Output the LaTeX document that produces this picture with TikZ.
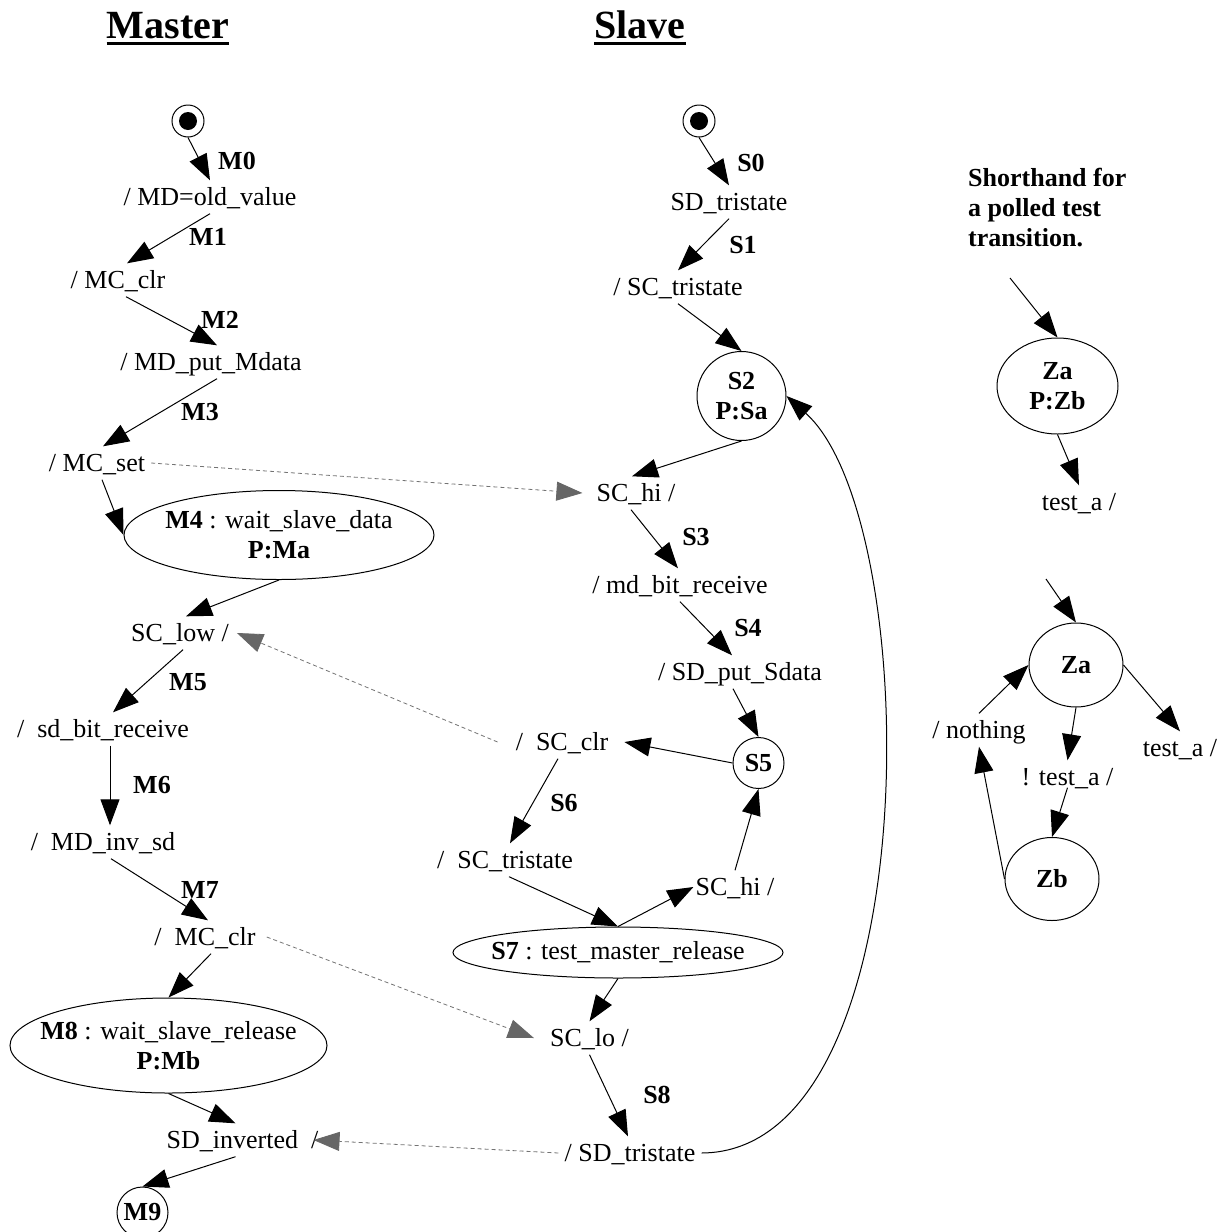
\documentclass[tikz,border=0pt]{standalone}
\usepackage{fontspec}
\setmainfont{Liberation Serif}
\usetikzlibrary{arrows.meta,shapes.geometric}

\begin{document}
\begin{tikzpicture}[x=1pt,y=-1pt,
  every node/.style={font=\fontsize{26}{30}\selectfont},
  txt/.style={inner xsep=6pt, inner ysep=0pt, text height=25pt, text depth=8pt},
  lab/.style={inner sep=0pt, font=\fontsize{26}{30}\selectfont\bfseries},
  ttl/.style={inner sep=0pt, anchor=base, font=\fontsize{40}{44}\selectfont\bfseries},
  st/.style={draw, circle, inner sep=0pt, line width=1pt, align=center,
             font=\fontsize{26}{30}\selectfont\bfseries},
  ell/.style={draw, ellipse, inner sep=0pt, line width=1pt, align=center},
  % ellipse of fixed size whose text sits centred inside it
  fixell/.style={draw, ellipse, inner sep=0pt, line width=1pt,
                 label={[align=center, inner sep=0pt]center:#1}},
  tr/.style={-{Triangle[length=26pt,width=19pt]}, line width=1pt},
  poll/.style={-{Triangle[length=26pt,width=19pt,color=black!60]},
               draw=black!55, line width=0.8pt, dash pattern=on 4pt off 3pt}
]
\fill[white] (0,0) rectangle (1229,1232);
\useasboundingbox (0,0) rectangle (1229,1232);

% column titles
\node[ttl] (mtitle) at (168,38) {Master};
\node[ttl] (stitle) at (640,38) {Slave};
\draw[line width=3pt] ([yshift=-5pt]mtitle.base west) -- ([yshift=-5pt]mtitle.base east);
\draw[line width=3pt] ([yshift=-5pt]stitle.base west) -- ([yshift=-5pt]stitle.base east);

% ---------------- master ----------------
\node[st, minimum size=32pt] (initM) at (188,121) {};
\fill (initM.center) circle (9pt);
\node[txt] (MDold) at (210,197) {/ MD=old\_value};
\node[txt] (MCclr1) at (118,280) {/ MC\_clr};
\node[txt] (MDput) at (211,362) {/ MD\_put\_Mdata};
\node[txt] (MCset) at (97,463) {/ MC\_set};
\node[fixell={\textbf{M4} : wait\_slave\_data\\\textbf{P:Ma}},
      minimum width=310pt, minimum height=89pt] (M4) at (279,535) {};
\node[txt] (SClow) at (180,633) {SC\_low /};
\node[txt] (sdbit) at (103,729) {/~ sd\_bit\_receive};
\node[txt] (MDinv) at (103,842) {/~ MD\_inv\_sd};
\node[txt] (MCclr2) at (205,937) {/~ MC\_clr};
\node[fixell={\textbf{M8} : wait\_slave\_release\\\textbf{P:Mb}},
      minimum width=317pt, minimum height=95pt] (M8) at (168.5,1045.5) {};
\node[txt] (SDinv) at (242.5,1140) {SD\_inverted~ /};
\node[st, minimum size=51pt] (M9) at (142.5,1212.5) {M9};

\draw[tr] (initM.south) -- (MDold.north);
\draw[tr] (MDold.south) -- ([xshift=9pt]MCclr1.north);
\draw[tr] ([xshift=8pt]MCclr1.south) -- ([xshift=6pt]MDput.north);
\draw[tr] ([xshift=6pt]MDput.south) -- ([xshift=6pt]MCset.north);
\draw[tr] ([xshift=5pt]MCset.south) -- (M4.west);
\draw[tr] (M4.south) -- ([xshift=6pt]SClow.north);
\draw[tr] ([xshift=3pt]SClow.south) -- ([xshift=10pt]sdbit.north);
\draw[tr] ([xshift=7pt]sdbit.south) -- ([xshift=7pt]MDinv.north);
\draw[tr] ([xshift=8pt]MDinv.south) -- ([xshift=3pt]MCclr2.north);
\draw[tr] ([xshift=6pt]MCclr2.south) -- (M8.north);
\draw[tr] (M8.south) -- ([xshift=-7pt]SDinv.north);
\draw[tr] ([xshift=-7pt]SDinv.south) -- (M9.north);

\node[lab] (lM0) at (237,161) {M0};
\node[lab] (lM1) at (208,237) {M1};
\node[lab] (lM2) at (220,320) {M2};
\node[lab] (lM3) at (200,412) {M3};
\node[lab] (lM5) at (188,682) {M5};
\node[lab] (lM6) at (152,785) {M6};
\node[lab] (lM7) at (200,890) {M7};

% ---------------- slave ----------------
\node[st, minimum size=32pt] (initS) at (699,121) {};
\fill (initS.center) circle (9pt);
\node[txt] (SDtri) at (729,202) {SD\_tristate};
\node[txt] (SCtri) at (678,287) {/ SC\_tristate};
\node[st, minimum size=89pt] (S2) at (741.5,396) {S2\\P:Sa};
\node[txt] (SChi1) at (636,493) {SC\_hi /};
\node[txt] (mdbit) at (680,585) {/ md\_bit\_receive};
\node[txt] (SDput) at (740,672) {/ SD\_put\_Sdata};
\node[st, minimum size=51pt] (S5) at (758.5,763) {S5};
\node[txt] (SCclr) at (562,742) {/~ SC\_clr};
\node[txt] (SCtri2) at (505,860) {/~ SC\_tristate};
\node[fixell={\textbf{S7} : test\_master\_release},
      minimum width=330pt, minimum height=51pt] (S7) at (618,952.5) {};
\node[txt] (SChi2) at (735,887) {SC\_hi /};
\node[txt] (SClo) at (589.5,1038) {SC\_lo /};
\node[txt] (SDtri2) at (630,1153) {/ SD\_tristate};

\draw[tr] (initS.south) -- (SDtri.north);
\draw[tr] (SDtri.south) -- (SCtri.north);
\draw[tr] (SCtri.south) -- (S2.north);
\draw[tr] (S2.south) -- ([xshift=-4pt]SChi1.north);
\draw[tr] ([xshift=-5pt]SChi1.south) -- ([xshift=-2pt]mdbit.north);
\draw[tr] (mdbit.south) -- ([xshift=-8pt]SDput.north);
\draw[tr] ([xshift=-7pt]SDput.south) -- (S5.north);
\draw[tr] (S5.west) -- ([xshift=10pt]SCclr.east);
\draw[tr] ([xshift=-4pt]SCclr.south) -- ([xshift=5pt]SCtri2.north);
\draw[tr] ([xshift=4pt]SCtri2.south) -- (S7.north);
\draw[tr] (S7.north) -- ([xshift=4pt]SChi2.west);
\draw[tr] (SChi2.north) -- (S5.south);
\draw[tr] (S7.south) -- (SClo.north);
\draw[tr] (SClo.south) -- ([xshift=-2pt]SDtri2.north);
\draw[tr] (SDtri2.east) .. controls (930,1152) and (925,520) .. (S2.east);

\node[lab] (lS0) at (751,163) {S0};
\node[lab] (lS1) at (743,245) {S1};
\node[lab] (lS3) at (696,537) {S3};
\node[lab] (lS4) at (748,628) {S4};
\node[lab] (lS6) at (564,803) {S6};
\node[lab] (lS8) at (657,1095) {S8};

% ---------------- handshake signals between the two machines ----------------
\draw[poll] (MCset.east) -- ([xshift=-8pt]SChi1.west);
\draw[poll] ([xshift=-12pt]SCclr.west) -- ([xshift=2pt]SClow.east);
\draw[poll] ([xshift=5pt]MCclr2.east) -- ([xshift=-10pt]SClo.west);
\draw[poll] (SDtri2.west) -- ([xshift=-11pt]SDinv.east);

% ---------------- legend: polled test transition ----------------
\node[lab, anchor=north west, align=left] (note) at (968,168)
  {Shorthand for\\a polled test\\transition.};

\coordinate (inZ1) at (1010,278);
\node[ell, minimum width=121pt, minimum height=96pt, font=\fontsize{26}{30}\selectfont\bfseries]
  (ZaP) at (1057.5,386) {Za\\P:Zb};
\node[txt] (testa1) at (1079,502) {test\_a /};
\draw[tr] (inZ1) -- (ZaP.north);
\draw[tr] (ZaP.south) -- (testa1.north);

\coordinate (inZ2) at (1046,579);
\node[ell, minimum width=94pt, minimum height=84pt, font=\fontsize{26}{30}\selectfont\bfseries]
  (Za) at (1076,665) {Za};
\node[txt] (testa2) at (1180,748) {test\_a /};
\node[txt] (ntesta) at (1067.5,777) {! test\_a /};
\node[ell, minimum width=94pt, minimum height=83pt, font=\fontsize{26}{30}\selectfont\bfseries]
  (Zb) at (1052,879) {Zb};
\node[txt] (nothing) at (979,730) {/ nothing};

\draw[tr] (inZ2) -- (Za.north);
\draw[tr] (Za.east) -- (testa2.north);
\draw[tr] (Za.south) -- (ntesta.north);
\draw[tr] ([yshift=6pt]ntesta.south) -- (Zb.north);
\draw[tr] (Zb.west) -- (nothing.south);
\draw[tr] (nothing.north) -- (Za.west);
\end{tikzpicture}
\end{document}
